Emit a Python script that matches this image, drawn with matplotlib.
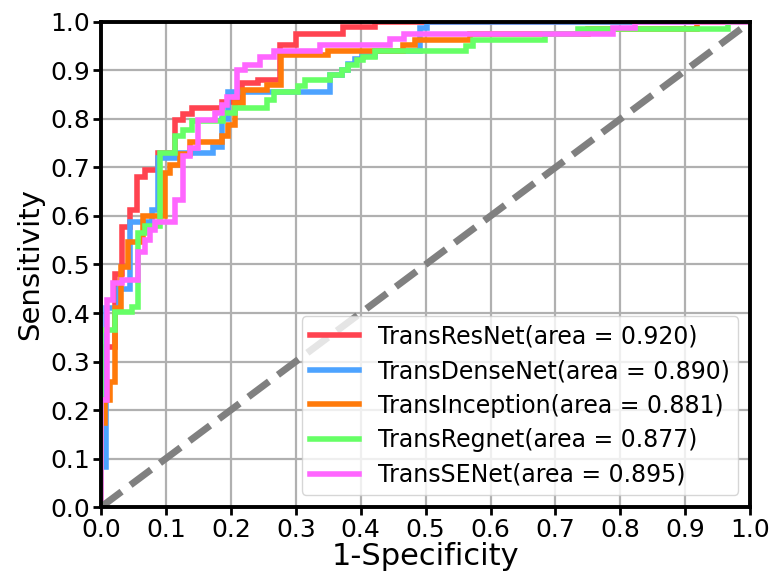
import matplotlib
matplotlib.use("Agg")
import matplotlib.pyplot as plt

# ---- data (corner points of each ROC step curve) ----
labels = ["TransResNet(area = 0.920)", "TransDenseNet(area = 0.890)",
          "TransInception(area = 0.881)", "TransRegnet(area = 0.877)",
          "TransSENet(area = 0.895)"]
colors = ["#ff4350", "#4da3ff", "#ff7a0a", "#66ff66", "#ff66ff"]

res_fpr = [0, 0, 0.005, 0.005, 0.021, 0.021, 0.032, 0.032, 0.045, 0.045, 0.056, 0.056,
           0.068, 0.068, 0.088, 0.088, 0.114, 0.114, 0.126, 0.126, 0.14, 0.14, 0.186, 0.186,
           0.217, 0.217, 0.242, 0.242, 0.276, 0.276, 0.30, 0.30, 0.373, 0.373, 0.422, 0.422, 1.0]
res_tpr = [0, 0.22, 0.22, 0.33, 0.33, 0.48, 0.48, 0.577, 0.577, 0.612, 0.612, 0.68,
           0.68, 0.695, 0.695, 0.73, 0.73, 0.798, 0.798, 0.81, 0.81, 0.823, 0.823, 0.836,
           0.836, 0.874, 0.874, 0.88, 0.88, 0.953, 0.953, 0.975, 0.975, 0.989, 0.989, 1.0, 1.0]

dense_fpr = [0, 0, 0.008, 0.008, 0.027, 0.027, 0.045, 0.045, 0.078, 0.078, 0.088, 0.088,
             0.115, 0.115, 0.173, 0.173, 0.186, 0.186, 0.196, 0.196, 0.353, 0.353, 0.371, 0.371,
             0.381, 0.381, 0.391, 0.391, 0.402, 0.402, 0.422, 0.422, 0.492, 0.492, 0.502, 0.502, 1.0]
dense_tpr = [0, 0.083, 0.083, 0.41, 0.41, 0.45, 0.45, 0.588, 0.588, 0.612, 0.612, 0.719,
             0.719, 0.729, 0.729, 0.742, 0.742, 0.80, 0.80, 0.856, 0.856, 0.891, 0.891, 0.902,
             0.902, 0.913, 0.913, 0.923, 0.923, 0.93, 0.93, 0.94, 0.94, 0.987, 0.987, 1.0, 1.0]

incep_fpr = [0, 0, 0.006, 0.006, 0.014, 0.014, 0.022, 0.022, 0.031, 0.031, 0.042, 0.042,
             0.065, 0.065, 0.099, 0.099, 0.106, 0.106, 0.122, 0.122, 0.137, 0.137, 0.186, 0.186,
             0.196, 0.196, 0.206, 0.206, 0.219, 0.219, 0.256, 0.256, 0.278, 0.278, 0.35, 0.35,
             0.465, 0.465, 0.484, 0.484, 0.569, 0.569, 0.75, 0.75, 0.918, 0.918, 1.0]
incep_tpr = [0, 0.173, 0.173, 0.22, 0.22, 0.258, 0.258, 0.41, 0.41, 0.495, 0.495, 0.547,
             0.547, 0.6, 0.6, 0.688, 0.688, 0.705, 0.705, 0.727, 0.727, 0.753, 0.753, 0.764,
             0.764, 0.788, 0.788, 0.833, 0.833, 0.86, 0.86, 0.87, 0.87, 0.932, 0.932, 0.941,
             0.941, 0.953, 0.953, 0.963, 0.963, 0.975, 0.975, 0.986, 0.986, 1.0, 1.0]

regnet_fpr = [0, 0, 0.022, 0.022, 0.047, 0.047, 0.057, 0.057, 0.068, 0.068, 0.091, 0.091,
              0.114, 0.114, 0.127, 0.127, 0.14, 0.14, 0.188, 0.188, 0.206, 0.206, 0.255, 0.255,
              0.266, 0.266, 0.304, 0.304, 0.314, 0.314, 0.353, 0.353, 0.371, 0.371, 0.381, 0.381,
              0.394, 0.394, 0.404, 0.404, 0.422, 0.422, 0.563, 0.563, 0.573, 0.573, 0.684, 0.684,
              0.735, 0.735, 0.966, 0.966, 1.0]
regnet_tpr = [0, 0.365, 0.365, 0.403, 0.403, 0.413, 0.413, 0.565, 0.565, 0.58, 0.58, 0.73,
              0.73, 0.764, 0.764, 0.777, 0.777, 0.795, 0.795, 0.812, 0.812, 0.823, 0.823, 0.839,
              0.839, 0.856, 0.856, 0.867, 0.867, 0.88, 0.88, 0.891, 0.891, 0.90, 0.90, 0.911,
              0.911, 0.922, 0.922, 0.928, 0.928, 0.94, 0.94, 0.951, 0.951, 0.963, 0.963, 0.975,
              0.975, 0.986, 0.986, 1.0, 1.0]

se_fpr = [0, 0, 0.009, 0.009, 0.019, 0.019, 0.032, 0.032, 0.057, 0.057, 0.068, 0.068,
          0.075, 0.075, 0.083, 0.083, 0.114, 0.114, 0.127, 0.127, 0.137, 0.137, 0.15, 0.15,
          0.176, 0.176, 0.186, 0.186, 0.194, 0.194, 0.209, 0.209, 0.222, 0.222, 0.245, 0.245,
          0.266, 0.266, 0.337, 0.337, 0.445, 0.445, 0.466, 0.466, 0.789, 0.789, 0.823, 0.823, 1.0]
se_tpr = [0, 0.22, 0.22, 0.427, 0.427, 0.461, 0.461, 0.468, 0.468, 0.526, 0.526, 0.55,
          0.55, 0.571, 0.571, 0.588, 0.588, 0.633, 0.633, 0.724, 0.724, 0.74, 0.74, 0.798,
          0.798, 0.812, 0.812, 0.829, 0.829, 0.846, 0.846, 0.90, 0.90, 0.911, 0.911, 0.928,
          0.928, 0.94, 0.94, 0.953, 0.953, 0.964, 0.964, 0.975, 0.975, 0.987, 0.987, 1.0, 1.0]

fprs = [res_fpr, dense_fpr, incep_fpr, regnet_fpr, se_fpr]
tprs = [res_tpr, dense_tpr, incep_tpr, regnet_tpr, se_tpr]

ticks = [0.0, 0.1, 0.2, 0.3, 0.4, 0.5, 0.6, 0.7, 0.8, 0.9, 1.0]
tick_labels = ["0.0", "0.1", "0.2", "0.3", "0.4", "0.5", "0.6", "0.7", "0.8", "0.9", "1.0"]

# ---- figure ----
fig = plt.figure(figsize=(7.71, 5.74), dpi=100)
ax = fig.add_axes([0.131, 0.1167, 0.842, 0.845])

for f, t, c, lab in zip(fprs, tprs, colors, labels):
    ax.plot(f, t, color=c, lw=4.0, label=lab, solid_joinstyle="miter")

ax.plot([0, 1], [0, 1], color="#808080", lw=5.0, linestyle="--")

ax.set_xlim(0, 1)
ax.set_ylim(0, 1)
ax.set_xticks(ticks)
ax.set_xticklabels(tick_labels)
ax.set_yticks(ticks)
ax.set_yticklabels(tick_labels)
ax.tick_params(labelsize=18, width=2, length=6, direction="out", pad=2)
ax.grid(True, color="#b0b0b0", lw=1.6)
ax.set_axisbelow(True)
for s in ax.spines.values():
    s.set_linewidth(2.8)
    s.set_zorder(5)

ax.set_xlabel("1-Specificity", fontsize=22, labelpad=0)
ax.set_ylabel("Sensitivity", fontsize=21, labelpad=4)

leg = ax.legend(loc="lower right", fontsize=17, handlelength=2.1,
                labelspacing=0.45, borderaxespad=0.5, borderpad=0.35)
for line in leg.get_lines():
    line.set_linewidth(4.0)

fig.savefig("out.png", dpi=100)
